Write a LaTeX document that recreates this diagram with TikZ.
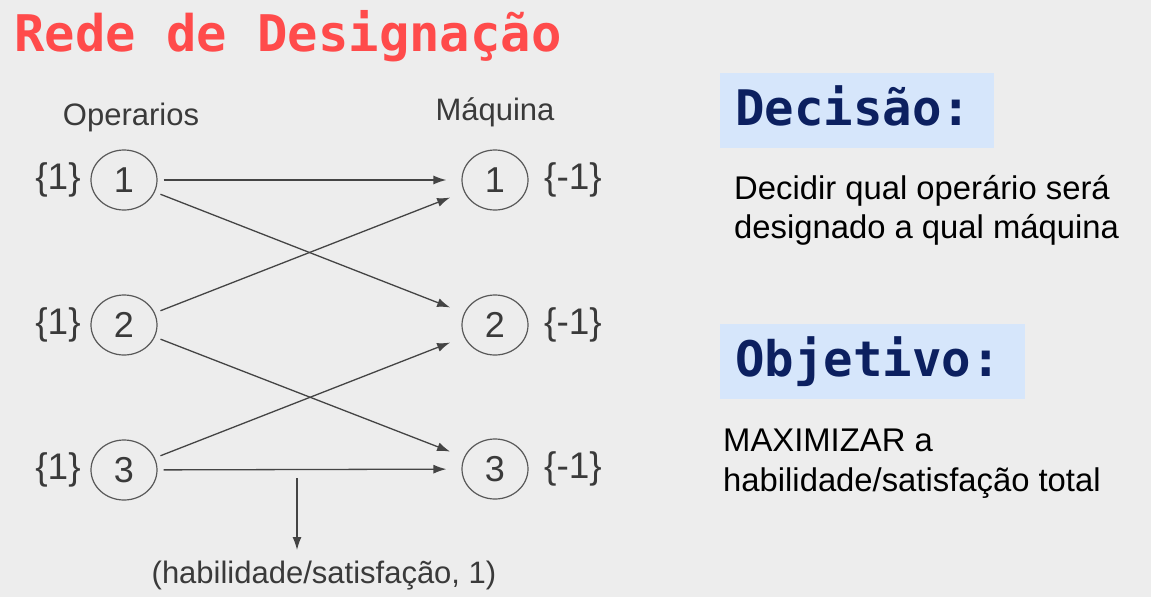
\documentclass[tikz,border=0pt]{standalone}
\usepackage{fontspec}
\setmainfont{Liberation Sans}
\newfontfamily\monob{DejaVu Sans Mono}
\usetikzlibrary{arrows.meta,shapes.geometric}
\definecolor{bgc}{HTML}{EDEDED}
\definecolor{titlered}{HTML}{FF4B4B}
\definecolor{navy}{HTML}{0C2060}
\definecolor{boxblue}{HTML}{D6E6FB}
\definecolor{inkgrey}{HTML}{3A3A3A}
\definecolor{linegrey}{HTML}{444444}
\begin{document}
\begin{tikzpicture}[x=1pt,y=-1pt,
  ov/.style={ellipse,draw=inkgrey!85,line width=1.2pt,minimum width=66pt,minimum height=60pt,inner sep=0pt,
    text=inkgrey,font=\fontsize{36}{40}\selectfont},
  supply/.style={text=inkgrey,inner sep=0pt,font=\fontsize{37}{40}\selectfont},
  dlabel/.style={text=inkgrey,inner sep=0pt,font=\fontsize{31}{36}\selectfont,anchor=base},
  arc/.style={draw=linegrey,line width=1.3pt,-{Latex[length=13pt,width=9pt]},shorten <=6pt,shorten >=15pt},
  hdrbox/.style={fill=boxblue,draw=none,inner sep=0pt,anchor=north west},
  hdrtext/.style={text=navy,inner sep=0pt,anchor=base west,font=\monob\bfseries\fontsize{49}{52}\selectfont},
  body/.style={text=black,inner sep=0pt,anchor=base west,font=\fontsize{32.8}{39}\selectfont}]
\fill[bgc] (0,0) rectangle (1151,597);
\useasboundingbox (0,0) rectangle (1151,597);
% title
\node[text=titlered,inner sep=0pt,anchor=base west,font=\monob\bfseries\fontsize{50.5}{54}\selectfont] (title) at (14,51) {Rede de Designação};
% column headings
\node[dlabel] (hop) at (131,125) {Operarios};
\node[dlabel] (hmq) at (495,120) {Máquina};
% nodes
\node[ov] (L1) at (124,180) {1};
\node[ov] (L2) at (124,325) {2};
\node[ov] (L3) at (124,470) {3};
\node[ov] (R1) at (495,180) {1};
\node[ov] (R2) at (495,325) {2};
\node[ov] (R3) at (495,469) {3};
% supplies / demands
\node[supply] (s1) at (58,180) {\{1\}};
\node[supply] (s2) at (58,325) {\{1\}};
\node[supply] (s3) at (58,470) {\{1\}};
\node[supply] (d1) at (573,180) {\{-1\}};
\node[supply] (d2) at (573,325) {\{-1\}};
\node[supply] (d3) at (573,469) {\{-1\}};
% arcs
\draw[arc] (L1) -- (R1);
\draw[arc] (L1) -- (R2);
\draw[arc] (L2) -- (R1);
\draw[arc] (L2) -- (R3);
\draw[arc] (L3) -- (R2);
\draw[arc] (L3) -- (R3);
% arc label
\node[dlabel] (lbl) at (324,583) {(habilidade/satisfação, 1)};
\coordinate (w) at (297,478);
\draw[draw=linegrey,line width=1.3pt,-{Latex[length=13pt,width=9pt]}] (w) -- (w |- 0,550);
% right panel
\node[hdrbox,minimum width=274pt,minimum height=75pt] (box1) at (720,73) {};
\node[hdrtext] (dec) at (735,125) {Decisão:};
\node[body] (t1) at (734,199) {Decidir qual operário será};
\node[body] (t2) at (734,238) {designado a qual máquina};
\node[hdrbox,minimum width=305pt,minimum height=75pt] (box2) at (720,324) {};
\node[hdrtext] (obj) at (735,376) {Objetivo:};
\node[body] (t3) at (723,451) {MAXIMIZAR a};
\node[body] (t4) at (723,491) {habilidade/satisfação total};
\end{tikzpicture}
\end{document}
